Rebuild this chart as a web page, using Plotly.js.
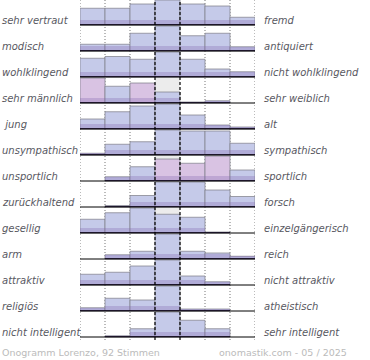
<!DOCTYPE html>
<html>
<head>
<meta charset="utf-8">
<script src="https://cdn.plot.ly/plotly-3.0.1.min.js"></script>
<style>html,body{margin:0;padding:0;background:#fff}#chart{width:370px;height:360px}</style>
</head>
<body>
<div id="chart"></div>
<script>
// ---- data ----
const leftLabels = ["sehr vertraut","modisch","wohlklingend","sehr männlich"," jung","unsympathisch","unsportlich","zurückhaltend","gesellig","arm","attraktiv","religiös","nicht intelligent"];
const rightLabels = ["fremd","antiquiert","nicht wohlklingend","sehr weiblich","alt","sympathisch","sportlich","forsch","einzelgängerisch","reich","nicht attraktiv","atheistisch","sehr intelligent"];
const scalePositions = [0,1,2,3,4,5,6];
// relative share per scale position (100 = most frequent answer of the row)
const votes = [
  [67, 67, 84, 100, 84, 76, 31],
  [27, 27, 71, 100, 61, 71, 17],
  [75, 82, 71, 100, 71, 32, 21],
  [100, 67, 80, 44, 4, 9, 0],
  [40, 69, 92, 100, 56, 16, 8],
  [7, 43, 53, 100, 96, 96, 47],
  [0, 17, 57, 88, 71, 100, 44],
  [0, 6, 46, 100, 100, 68, 42],
  [55, 81, 100, 75, 63, 4, 0],
  [0, 17, 31, 100, 31, 24, 11],
  [43, 51, 76, 100, 36, 13, 0],
  [13, 51, 44, 100, 8, 8, 0],
  [0, 5, 33, 100, 67, 33, 0]
];
const footerLeft = "Onogramm Lorenzo, 92 Stimmen";
const footerRight = "onomastik.com - 05 / 2025";

// ---- style ----
const ROW = 26, FULL = 25;
const PLOT_W = 175, PLOT_H = 340, ML = 80;
const blue = "#c5cae9", pink = "#d9c3e3";
const highlighted = {3: [0, 2], 6: [3, 4, 5]};
const nRows = votes.length;
const rowBase = i => ROW * (nRows - 1 - i);

const bg = {x: [], y: [], base: []};
const main = {x: [], y: [], base: [], color: []};
const band = {x: [], y: [], base: []};
const dark = {x: [], y: [], base: []};
votes.forEach((row, i) => {
  const mx = Math.max(...row);
  if (row[3] < mx) { bg.x.push(3); bg.y.push(FULL); bg.base.push(rowBase(i)); }
  row.forEach((v, j) => {
    if (v <= 0) return;
    const h = v / 100 * FULL;
    main.x.push(scalePositions[j]); main.y.push(h); main.base.push(rowBase(i));
    main.color.push((highlighted[i] || []).includes(j) ? pink : blue);
    band.x.push(scalePositions[j]); band.y.push(Math.min(h, 5)); band.base.push(rowBase(i));
    dark.x.push(scalePositions[j]); dark.y.push(Math.min(h, 1.3)); dark.base.push(rowBase(i));
  });
});

const traces = [
  {type: "bar", x: bg.x, y: bg.y, base: bg.base, width: 1, marker: {color: "#ececec", line: {width: 0}}, hoverinfo: "skip"},
  {type: "bar", x: main.x, y: main.y, base: main.base, width: 1, marker: {color: main.color, line: {color: "rgba(130,130,140,0.75)", width: 1}}, hoverinfo: "skip"},
  {type: "bar", x: band.x, y: band.y, base: band.base, width: 1, marker: {color: "rgba(130,100,175,0.3)", line: {width: 0}}, hoverinfo: "skip"},
  {type: "bar", x: dark.x, y: dark.y, base: dark.base, width: 1, marker: {color: "rgba(45,30,70,0.9)", line: {width: 0}}, hoverinfo: "skip"}
];

const shapes = [];
[-0.5, 0.5, 1.5, 4.5, 5.5, 6.5].forEach(x => shapes.push({type: "line", xref: "x", yref: "paper", x0: x, x1: x, y0: 0, y1: 1, line: {color: "#777", width: 1, dash: "1px,2px"}, layer: "below"}));
[2.5, 3.5].forEach(x => shapes.push({type: "line", xref: "x", yref: "paper", x0: x, x1: x, y0: 0, y1: 1, line: {color: "#000", width: 1.2, dash: "3px,2px"}, layer: "above"}));
votes.forEach((row, i) => shapes.push({type: "line", xref: "x", yref: "y", x0: -0.5, x1: 6.5, y0: rowBase(i), y1: rowBase(i), line: {color: "#000", width: 1}, layer: "above"}));

const px2paperX = p => (p - ML) / PLOT_W;
const labFont = {family: "DejaVu Sans", size: 10, style: "italic", color: "#58585f"};
const annotations = [];
leftLabels.forEach((t, i) => annotations.push({xref: "paper", yref: "y", x: px2paperX(0), y: rowBase(i) + 5, text: t, showarrow: false, xanchor: "left", yanchor: "middle", font: labFont}));
rightLabels.forEach((t, i) => annotations.push({xref: "paper", yref: "y", x: px2paperX(262), y: rowBase(i) + 5, text: t, showarrow: false, xanchor: "left", yanchor: "middle", font: labFont}));
const footFont = {family: "DejaVu Sans", size: 9.5, color: "#bbbbbb"};
annotations.push({xref: "paper", yref: "paper", x: px2paperX(0), y: -12 / PLOT_H, text: footerLeft, showarrow: false, xanchor: "left", yanchor: "middle", font: footFont});
annotations.push({xref: "paper", yref: "paper", x: px2paperX(349), y: -12 / PLOT_H, text: footerRight, showarrow: false, xanchor: "right", yanchor: "middle", font: footFont});

const layout = {
  width: 370, height: 360,
  margin: {l: ML, r: 370 - ML - PLOT_W, t: 0, b: 360 - PLOT_H, pad: 0},
  paper_bgcolor: "#fff", plot_bgcolor: "#fff",
  barmode: "overlay", bargap: 0,
  showlegend: false,
  xaxis: {range: [-0.5, 6.5], showgrid: false, zeroline: false, showticklabels: false, ticks: "", showline: false, fixedrange: true},
  yaxis: {range: [-3, ROW * (nRows - 1) + FULL], showgrid: false, zeroline: false, showticklabels: false, ticks: "", showline: false, fixedrange: true},
  shapes: shapes,
  annotations: annotations
};
Plotly.newPlot("chart", traces, layout, {displayModeBar: false, staticPlot: true});
</script>
</body>
</html>
